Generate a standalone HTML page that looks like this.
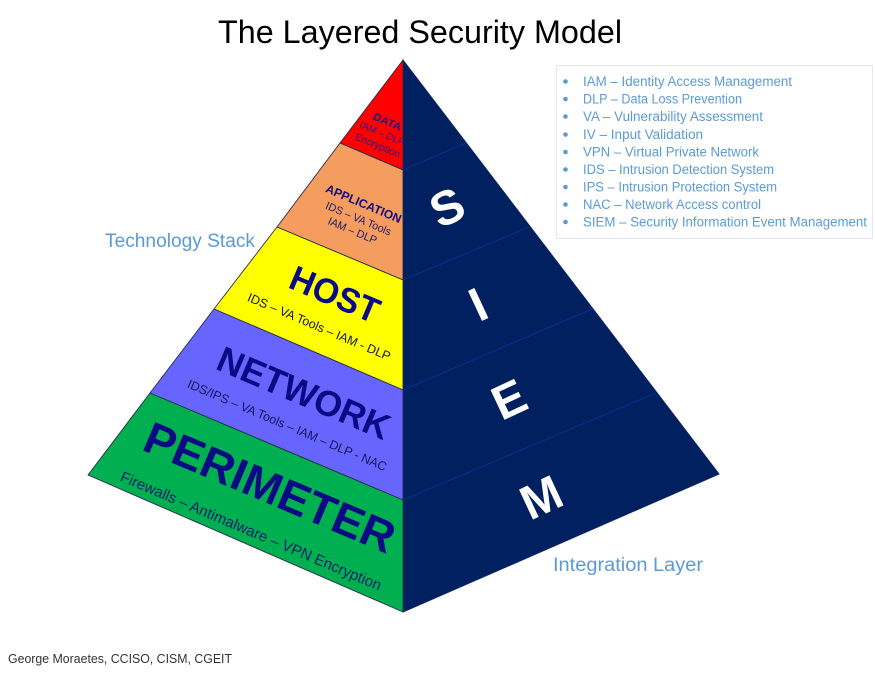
<!DOCTYPE html>
<html>
<head>
<meta charset="utf-8">
<style>
  html,body{margin:0;padding:0;background:#fff;}
  body{width:875px;height:675px;overflow:hidden;}
  svg{display:block;}
  text{font-family:"Liberation Sans", sans-serif;}
</style>
</head>
<body>
<svg width="875" height="675" viewBox="0 0 875 675" xmlns="http://www.w3.org/2000/svg">
  <defs>
    <clipPath id="leftclip">
      <polygon points="403,60 88,475 403,612"/>
    </clipPath>
  </defs>

  <!-- Title -->
  <text x="218" y="43" font-size="32" fill="#000" textLength="404" lengthAdjust="spacingAndGlyphs">The Layered Security Model</text>

  <!-- Right face -->
  <polygon points="403,60 719,474 403,612" fill="#002060" stroke="#0d2466" stroke-width="1"/>
  <g stroke="#0b2a86" stroke-width="1.3" fill="none">
    <line x1="403" y1="170" x2="466" y2="143"/>
    <line x1="403" y1="280" x2="529" y2="227"/>
    <line x1="403" y1="390" x2="592" y2="309"/>
    <line x1="403" y1="500" x2="656" y2="393"/>
  </g>

  <!-- Left face layers -->
  <g stroke="#2a2a4a" stroke-width="0.9" stroke-linejoin="round">
    <polygon points="403,60 340,143 403,170" fill="#FF0000"/>
    <polygon points="340,143 277,227 403,280 403,170" fill="#F59D5F"/>
    <polygon points="277,227 214,309 403,390 403,280" fill="#FFFF00"/>
    <polygon points="214,309 150,393 403,500 403,390" fill="#6666FF"/>
    <polygon points="150,393 88,475 403,612 403,500" fill="#00B050"/>
  </g>

  <!-- Left face text -->
  <g clip-path="url(#leftclip)" text-anchor="middle">
    <!-- DATA -->
    <g transform="translate(386,125) rotate(23)">
      <text x="0" y="0" font-size="10.5" font-weight="bold" fill="#1a1a8c" textLength="30" lengthAdjust="spacingAndGlyphs">DATA</text>
    </g>
    <g transform="translate(381,136.5) rotate(23)">
      <text x="0" y="0" font-size="10" fill="#2a1a8a" textLength="48" lengthAdjust="spacingAndGlyphs">IAM – DLP</text>
    </g>
    <g transform="translate(376.5,148.5) rotate(23)">
      <text x="0" y="0" font-size="10" fill="#2a1a8a" textLength="48" lengthAdjust="spacingAndGlyphs">Encryption</text>
    </g>

    <!-- APPLICATION -->
    <g transform="translate(362,207.5) rotate(23)">
      <text x="0" y="0" font-size="12" font-weight="bold" fill="#0f0f80" textLength="81" lengthAdjust="spacingAndGlyphs">APPLICATION</text>
    </g>
    <g transform="translate(357,222) rotate(23)">
      <text x="0" y="0" font-size="11" fill="#1a1a6a" textLength="70" lengthAdjust="spacingAndGlyphs">IDS – VA Tools</text>
    </g>
    <g transform="translate(351,234) rotate(23)">
      <text x="0" y="0" font-size="11" fill="#1a1a6a" textLength="52" lengthAdjust="spacingAndGlyphs">IAM – DLP</text>
    </g>

    <!-- HOST -->
    <g transform="translate(335,294) rotate(23)">
      <text x="0" y="12.5" font-size="35" font-weight="bold" fill="#0a0a85" textLength="94" lengthAdjust="spacingAndGlyphs">HOST</text>
    </g>
    <g transform="translate(319,327) rotate(23)">
      <text x="0" y="4" font-size="12.5" fill="#15155a" textLength="154" lengthAdjust="spacingAndGlyphs">IDS – VA Tools – IAM - DLP</text>
    </g>

    <!-- NETWORK -->
    <g transform="translate(304,392.5) rotate(23)">
      <text x="0" y="13" font-size="36" font-weight="bold" fill="#0a0a85" textLength="184" lengthAdjust="spacingAndGlyphs">NETWORK</text>
    </g>
    <g transform="translate(287,425.5) rotate(23)">
      <text x="0" y="4" font-size="12.5" fill="#15155a" textLength="215" lengthAdjust="spacingAndGlyphs">IDS/IPS – VA Tools – IAM – DLP - NAC</text>
    </g>

    <!-- PERIMETER -->
    <g transform="translate(270,487) rotate(23)">
      <text x="0" y="16" font-size="45" font-weight="bold" fill="#0a0a85" textLength="268" lengthAdjust="spacingAndGlyphs">PERIMETER</text>
    </g>
    <g transform="translate(251,531) rotate(23)">
      <text x="0" y="5" font-size="15" fill="#0d1f6a" textLength="282" lengthAdjust="spacingAndGlyphs">Firewalls – Antimalware – VPN Encryption</text>
    </g>
  </g>

  <!-- SIEM letters -->
  <g font-size="48" font-weight="bold" fill="#ffffff" text-anchor="middle">
    <text transform="translate(447,207) rotate(-25)" x="0" y="17">S</text>
    <text transform="translate(478,304) rotate(-25)" x="0" y="17">I</text>
    <text transform="translate(509,399) rotate(-25)" x="0" y="17">E</text>
    <text transform="translate(541,497) rotate(-25)" x="0" y="17">M</text>
  </g>

  <!-- Side labels -->
  <text x="105" y="247" font-size="19" fill="#5B9BD5" textLength="150" lengthAdjust="spacingAndGlyphs">Technology Stack</text>
  <text x="553" y="571" font-size="19" fill="#5B9BD5" textLength="150" lengthAdjust="spacingAndGlyphs">Integration Layer</text>

  <!-- Legend box -->
  <rect x="556.5" y="65.5" width="316" height="173" fill="#ffffff" stroke="#e3e8ef" stroke-width="1"/>
  <g fill="#5B9BD5" font-size="13.5">
    <circle cx="565.5" cy="81.5" r="2.3"/>
    <text x="583" y="86" textLength="209" lengthAdjust="spacingAndGlyphs">IAM – Identity Access Management</text>
    <circle cx="565.5" cy="99" r="2.3"/>
    <text x="583" y="103.5" textLength="159" lengthAdjust="spacingAndGlyphs">DLP – Data Loss Prevention</text>
    <circle cx="565.5" cy="116.5" r="2.3"/>
    <text x="583" y="121" textLength="180" lengthAdjust="spacingAndGlyphs">VA  – Vulnerability Assessment</text>
    <circle cx="565.5" cy="134.5" r="2.3"/>
    <text x="583" y="139" textLength="120" lengthAdjust="spacingAndGlyphs">IV – Input Validation</text>
    <circle cx="565.5" cy="152" r="2.3"/>
    <text x="583" y="156.5" textLength="176" lengthAdjust="spacingAndGlyphs">VPN – Virtual Private Network</text>
    <circle cx="565.5" cy="169.5" r="2.3"/>
    <text x="583" y="174" textLength="191" lengthAdjust="spacingAndGlyphs">IDS – Intrusion Detection System</text>
    <circle cx="565.5" cy="187" r="2.3"/>
    <text x="583" y="191.5" textLength="194" lengthAdjust="spacingAndGlyphs">IPS – Intrusion Protection System</text>
    <circle cx="565.5" cy="204.5" r="2.3"/>
    <text x="583" y="209" textLength="178" lengthAdjust="spacingAndGlyphs">NAC – Network Access control</text>
    <circle cx="565.5" cy="222" r="2.3"/>
    <text x="583" y="226.5" textLength="284" lengthAdjust="spacingAndGlyphs">SIEM – Security Information Event Management</text>
  </g>

  <!-- Footer -->
  <text x="8" y="663" font-size="13" fill="#333333" textLength="224" lengthAdjust="spacingAndGlyphs">George Moraetes, CCISO, CISM, CGEIT</text>
</svg>
</body>
</html>
